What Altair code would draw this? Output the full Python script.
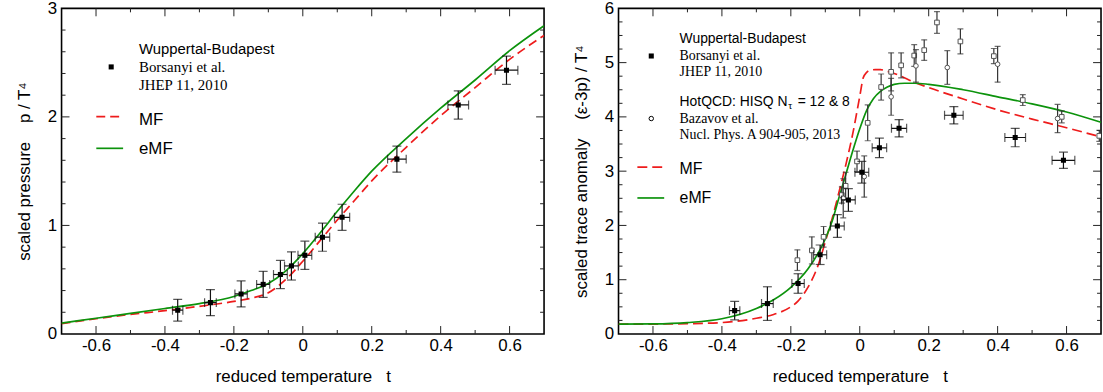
import altair as alt
import pandas as pd

# ---------------- data ----------------
# Wuppertal-Budapest lattice points (same temperatures in both panels)
wb_t    = [-0.363, -0.268, -0.179, -0.115, -0.065, -0.033, 0.006, 0.057, 0.114, 0.273, 0.451, 0.591]
wb_terr = [0.015, 0.017, 0.018, 0.019, 0.020, 0.020, 0.020, 0.021, 0.022, 0.027, 0.030, 0.033]
wb_p     = [0.219, 0.289, 0.369, 0.457, 0.548, 0.627, 0.725, 0.892, 1.075, 1.611, 2.110, 2.430]
wb_p_err = [0.10, 0.12, 0.12, 0.12, 0.13, 0.13, 0.13, 0.13, 0.12, 0.12, 0.13, 0.13]
wb_i     = [0.43, 0.56, 0.93, 1.46, 1.99, 2.47, 2.98, 3.43, 3.79, 4.03, 3.62, 3.20]
wb_i_err = [0.17, 0.31, 0.18, 0.18, 0.21, 0.21, 0.20, 0.18, 0.16, 0.16, 0.17, 0.15]

# HotQCD HISQ (open squares)
hq_sq_t   = [-0.181, -0.139, -0.105, -0.052, -0.041, -0.008, 0.023, 0.062, 0.091, 0.120,
             0.158, 0.187, 0.224, 0.292, 0.389, 0.473, 0.586, 0.695]
hq_sq_i   = [1.36, 1.54, 1.79, 2.56, 2.73, 3.18, 3.89, 4.55, 4.83, 4.95,
             5.13, 5.23, 5.74, 5.39, 5.12, 4.31, 4.00, 3.65]
hq_sq_err = [0.19, 0.25, 0.19, 0.15, 0.25, 0.19, 0.33, 0.24, 0.35, 0.23,
             0.20, 0.19, 0.20, 0.23, 0.14, 0.10, 0.11, 0.10]
# HotQCD HISQ (open circles)
hq_ci_t   = [-0.048, 0.013, 0.091, 0.163, 0.254, 0.400, 0.574]
hq_ci_i   = [2.50, 2.90, 4.37, 4.94, 4.91, 4.97, 3.97]
hq_ci_err = [0.36, 0.38, 0.34, 0.30, 0.31, 0.33, 0.26]

# model curves: scaled pressure
p_t   = [-0.7, -0.6, -0.5, -0.4, -0.3, -0.2, -0.15, -0.1, -0.05, 0.0, 0.05, 0.1,
         0.15, 0.2, 0.3, 0.4, 0.5, 0.6, 0.7]
p_mf  = [0.095, 0.14, 0.18, 0.215, 0.255, 0.30, 0.33, 0.38, 0.50, 0.67, 0.86, 1.05,
         1.23, 1.41, 1.72, 2.01, 2.27, 2.53, 2.75]
p_emf = [0.10, 0.145, 0.19, 0.235, 0.28, 0.345, 0.40, 0.465, 0.58, 0.74, 0.93, 1.13,
         1.32, 1.50, 1.80, 2.08, 2.34, 2.61, 2.84]

# model curves: scaled trace anomaly
i_mf_t = [-0.7, -0.6, -0.5, -0.4, -0.3, -0.25, -0.2, -0.18, -0.16, -0.14, -0.12, -0.1,
          -0.08, -0.06, -0.04, -0.02, 0.0, 0.01, 0.02, 0.03, 0.045, 0.06, 0.08, 0.1,
          0.12, 0.15, 0.2, 0.3, 0.4, 0.5, 0.6, 0.7]
i_mf   = [0.18, 0.182, 0.19, 0.21, 0.29, 0.36, 0.50, 0.60, 0.76, 0.98, 1.28, 1.70,
          2.13, 2.62, 3.13, 3.70, 4.38, 4.72, 4.82, 4.86, 4.87, 4.87, 4.84, 4.80,
          4.75, 4.66, 4.54, 4.33, 4.13, 3.96, 3.80, 3.63]
i_emf_t = [-0.7, -0.6, -0.5, -0.4, -0.3, -0.25, -0.2, -0.15, -0.1, -0.08, -0.06, -0.04,
           -0.02, 0.0, 0.02, 0.04, 0.06, 0.08, 0.1, 0.13, 0.16, 0.2, 0.3, 0.4, 0.5,
           0.6, 0.7]
i_emf   = [0.18, 0.185, 0.21, 0.28, 0.47, 0.63, 0.86, 1.20, 1.75, 2.08, 2.52, 2.95,
           3.38, 3.78, 4.12, 4.34, 4.47, 4.55, 4.60, 4.62, 4.62, 4.60, 4.50, 4.37, 4.24,
           4.09, 3.90]

# axis ticks
x_major = [-0.6, -0.4, -0.2, 0, 0.2, 0.4, 0.6]
x_minor = [-0.5, -0.3, -0.1, 0.1, 0.3, 0.5]
yl_major = [0, 1, 2, 3]
yl_minor = [0.2, 0.4, 0.6, 0.8, 1.2, 1.4, 1.6, 1.8, 2.2, 2.4, 2.6, 2.8]
yr_major = [0, 1, 2, 3, 4, 5, 6]
yr_minor = [v + q for v in range(6) for q in (0.25, 0.5, 0.75)]

# ---------------- styling ----------------
SANS = "Liberation Sans"
SERIF = "Liberation Serif"
RED = "#ee1c1c"
GREEN = "#0c930c"
W, H = 486, 328
NB = "\u00a0"


def make_panel(ymax, ymajor, yminor, ytitle):
    xs = alt.Scale(domain=[-0.7, 0.7], nice=False, zero=False)
    ys = alt.Scale(domain=[0, ymax], nice=False, zero=False)
    xa = alt.Axis(values=x_major, labelExpr="'' + datum.value", title="reduced temperature" + NB * 3 + "t",
                  ticks=False, domain=False, grid=False, labelFontSize=17, titleFontSize=17,
                  labelFont=SANS, titleFont=SANS, titleFontWeight="normal", labelColor="black",
                  titleColor="black", labelPadding=4, titlePadding=15, labelOverlap=False)
    ya = alt.Axis(values=ymajor, labelExpr="'' + datum.value", title=ytitle,
                  ticks=False, domain=False, grid=False, labelFontSize=17, titleFontSize=17,
                  labelFont=SANS, titleFont=SANS, titleFontWeight="normal", labelColor="black",
                  titleColor="black", labelPadding=5, titlePadding=14, labelOverlap=False)

    def X(f):
        return alt.X(f + ":Q", scale=xs, axis=xa)

    def Y(f):
        return alt.Y(f + ":Q", scale=ys, axis=ya)

    layers = []
    # inward ticks on all four sides
    for vals, L in [(x_major, 8), (x_minor, 4)]:
        base = alt.Chart(pd.DataFrame({"v": vals})).mark_rule(color="#222", strokeWidth=1)
        layers.append(base.encode(x=X("v"), y=alt.value(H), y2=alt.value(H - L)))
        layers.append(base.encode(x=X("v"), y=alt.value(0), y2=alt.value(L)))
    for vals, L in [([v for v in ymajor if 0 < v < ymax], 8), (yminor, 4)]:
        base = alt.Chart(pd.DataFrame({"v": vals})).mark_rule(color="#222", strokeWidth=1)
        layers.append(base.encode(y=Y("v"), x=alt.value(0), x2=alt.value(L)))
        layers.append(base.encode(y=Y("v"), x=alt.value(W), x2=alt.value(W - L)))
    return X, Y, layers


def curve(t, v, color, dash, X, Y):
    df = pd.DataFrame({"t": t, "v": v})
    kw = dict(color=color, strokeWidth=1.7, interpolate="monotone", clip=True)
    if dash:
        kw["strokeDash"] = dash
    return alt.Chart(df).mark_line(**kw).encode(x=X("t"), y=Y("v"))


def points(t, y, yerr, X, Y, terr=None, shape="square", filled=True, color="#111", cap=9):
    df = pd.DataFrame({"t": t, "y": y, "yerr": yerr})
    df["ylo"] = df["y"] - df["yerr"]
    df["yhi"] = df["y"] + df["yerr"]
    out = []
    b = alt.Chart(df)
    out.append(b.mark_rule(color=color, strokeWidth=1.2, clip=True).encode(x=X("t"), y=Y("ylo"), y2=alt.Y2("yhi")))
    out.append(b.mark_tick(orient="horizontal", size=cap, thickness=1.2, color=color, clip=True)
               .encode(x=X("t"), y=Y("ylo")))
    out.append(b.mark_tick(orient="horizontal", size=cap, thickness=1.2, color=color, clip=True)
               .encode(x=X("t"), y=Y("yhi")))
    if terr is not None:
        df2 = df.copy()
        df2["tlo"] = [a - e for a, e in zip(t, terr)]
        df2["thi"] = [a + e for a, e in zip(t, terr)]
        b2 = alt.Chart(df2)
        out.append(b2.mark_rule(color=color, strokeWidth=1.2, clip=True).encode(x=X("tlo"), x2=alt.X2("thi"), y=Y("y")))
        out.append(b2.mark_tick(orient="vertical", size=cap, thickness=1.2, color=color, clip=True)
                   .encode(x=X("tlo"), y=Y("y")))
        out.append(b2.mark_tick(orient="vertical", size=cap, thickness=1.2, color=color, clip=True)
                   .encode(x=X("thi"), y=Y("y")))
    if filled:
        out.append(b.mark_point(shape=shape, filled=True, size=26, color="black", opacity=1, clip=True)
                   .encode(x=X("t"), y=Y("y")))
    else:
        out.append(b.mark_point(shape=shape, filled=True, size=22, fill="white", stroke="#555",
                                strokeWidth=1, opacity=1, clip=True)
                   .encode(x=X("t"), y=Y("y")))
    return out


def txt(s, x, y, size, font):
    return alt.Chart(pd.DataFrame({"s": [s]})).mark_text(
        align="left", baseline="middle", font=font, fontSize=size, color="black"
    ).encode(text="s:N", x=alt.value(x), y=alt.value(y))


def sym(x, y, shape, filled):
    d = alt.Chart(pd.DataFrame({"s": [0]}))
    if filled:
        return d.mark_point(shape=shape, filled=True, size=26, color="black", opacity=1).encode(
            x=alt.value(x), y=alt.value(y))
    return d.mark_point(shape=shape, filled=False, size=20, color="black", strokeWidth=1, opacity=1).encode(
        x=alt.value(x), y=alt.value(y))


def seg(x1, x2, y, color, dash):
    kw = dict(color=color, strokeWidth=1.7)
    if dash:
        kw["strokeDash"] = dash
    return alt.Chart(pd.DataFrame({"s": [0]})).mark_rule(**kw).encode(
        x=alt.value(x1), x2=alt.value(x2), y=alt.value(y))


# ---------------- left panel: pressure ----------------
X1, Y1, L1 = make_panel(3, yl_major, yl_minor, "scaled pressure" + NB * 4 + "p / T\u2074")
L1 += [curve(p_t, p_mf, RED, [9, 5], X1, Y1), curve(p_t, p_emf, GREEN, None, X1, Y1)]
L1 += points(wb_t, wb_p, wb_p_err, X1, Y1, terr=wb_terr)
L1 += [
    txt("Wuppertal-Budapest", 78, 41, 15, SANS),
    sym(50, 59, "square", True),
    txt("Borsanyi et al.", 78, 59, 15, SERIF),
    txt("JHEP 11, 2010", 78, 77, 15, SERIF),
    seg(35, 62, 109, RED, [9, 5]),
    txt("MF", 78, 112, 17, SANS),
    seg(35, 62, 141, GREEN, None),
    txt("eMF", 78, 142, 17, SANS),
]
left = alt.layer(*L1).properties(width=W, height=H)

# ---------------- right panel: trace anomaly ----------------
X2, Y2, L2 = make_panel(6, yr_major, yr_minor, "scaled trace anomaly" + NB * 4 + "(\u03b5-3p) / T\u2074")
L2 += [curve(i_mf_t, i_mf, RED, [10, 5], X2, Y2), curve(i_emf_t, i_emf, GREEN, None, X2, Y2)]
L2 += points(hq_sq_t, hq_sq_i, hq_sq_err, X2, Y2, shape="square", filled=False, color="#333", cap=6)
L2 += points(hq_ci_t, hq_ci_i, hq_ci_err, X2, Y2, shape="circle", filled=False, color="#333", cap=6)
L2 += points(wb_t, wb_i, wb_i_err, X2, Y2, terr=wb_terr)
FS = 14
tau_x = 61.5 + 7.78 * FS + 0.5
L2 += [
    txt("Wuppertal-Budapest", 61.5, 31, FS, SANS),
    sym(33, 48, "square", True),
    txt("Borsanyi et al.", 61.5, 48, FS, SERIF),
    txt("JHEP 11, 2010", 61.5, 64, FS, SERIF),
    txt("HotQCD: HISQ N", 61.5, 94, FS, SANS),
    txt("\u03c4", tau_x, 98, 10, SANS),
    txt("= 12 & 8", tau_x + 9.5, 94, FS, SANS),
    sym(33, 111, "circle", False),
    txt("Bazavov et al.", 61.5, 111, FS, SERIF),
    txt("Nucl. Phys. A 904-905, 2013", 61.5, 128, FS, SERIF),
    seg(19, 46, 160, RED, [10, 5]),
    txt("MF", 61.5, 162, 16, SANS),
    seg(19, 46, 191, GREEN, None),
    txt("eMF", 61.5, 191, 16, SANS),
]
right = alt.layer(*L2).properties(width=W, height=H)

chart = alt.hconcat(left, right, spacing=75, bounds="flush").properties(
    padding={"left": 14, "top": -3, "right": 0, "bottom": 0}, background="white"
).configure_view(stroke="black", strokeWidth=1.6)

chart.save("out.html", embed_options={"renderer": "svg", "actions": False})
